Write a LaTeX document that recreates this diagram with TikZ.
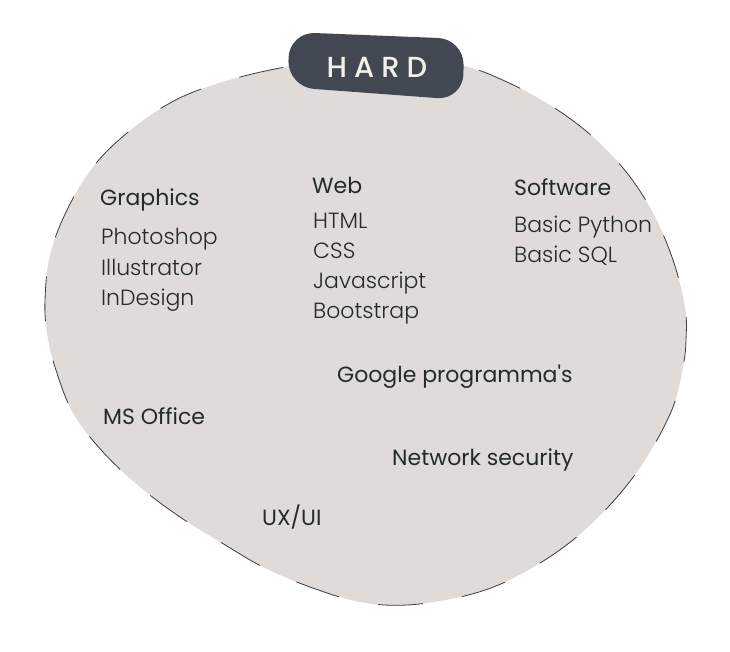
\documentclass[tikz,border=0pt]{standalone}
\usepackage{fontspec}
\setmainfont{Poppins}
\newfontfamily\headf{Poppins}
\newfontfamily\lightf{Poppins Light}
\newfontfamily\medf{Poppins Medium}
\definecolor{blobfill}{HTML}{DFDBD8}
\definecolor{blobline}{HTML}{3A3D40}
\definecolor{ink}{HTML}{222B27}
\definecolor{pill}{HTML}{414852}
\definecolor{pilltext}{HTML}{F2F0EB}
\tikzset{
  head/.style={anchor=base west, inner sep=0pt, text=ink, font=\headf\fontsize{22}{26}\selectfont},
  item/.style={anchor=base west, inner sep=0pt, text=ink, font=\lightf\fontsize{22}{26}\selectfont},
}
\begin{document}
\begin{tikzpicture}[x=1pt,y=-1pt]
\useasboundingbox (0,0) rectangle (730,651);
% blob
\path[fill=blobfill, draw=blobline, line width=0.8pt, dash pattern=on 45pt off 40pt]
  plot[smooth cycle, tension=0.6] coordinates {
  (330,61) (395,59) (460,65) (507,82) (553,107) (593,137) (627,173) (653,213)
  (673,260) (685,307) (686,340) (683,367) (673,407) (650,452) (623,490)
  (587,528) (548,558) (503,583) (460,597) (407,605) (360,602) (310,587)
  (263,567) (222,543) (180,517) (140,487) (103,452) (73,413) (55,367)
  (47,333) (45,300) (50,255) (67,210) (93,167) (127,133) (170,103)
  (213,85) (270,70)};
% pill
\fill[pill, rounded corners=26pt] (289,32) -- (464,39) -- (463,100) -- (288,87) -- cycle;
\node[anchor=base, inner sep=0pt, text=pilltext, font=\medf\fontsize{29}{32}\selectfont] (hard) at (377,77) {H\hspace{7pt}A\hspace{7pt}R\hspace{7pt}D};
% Graphics
\node[head] (graphics) at (100,205) {Graphics};
\node[item] (photoshop) at (101,244) {Photoshop};
\node[item] (illustrator) at (101,275) {Illustrator};
\node[item] (indesign) at (101,305) {InDesign};
% Web
\node[head] (web) at (312,193) {Web};
\node[item] (html) at (313,228) {HTML};
\node[item] (css) at (313,258) {CSS};
\node[item] (js) at (313,288) {Javascript};
\node[item] (bootstrap) at (313,318) {Bootstrap};
% Software
\node[head] (software) at (514,195) {Software};
\node[item] (python) at (514,232) {Basic Python};
\node[item] (sql) at (514,262) {Basic SQL};
% others
\node[head] (google) at (337,382) {Google programma's};
\node[head] (msoffice) at (103,424) {MS Office};
\node[head] (network) at (392,465) {Network security};
\node[head] (uxui) at (262,525) {UX/UI};
\end{tikzpicture}
\end{document}
